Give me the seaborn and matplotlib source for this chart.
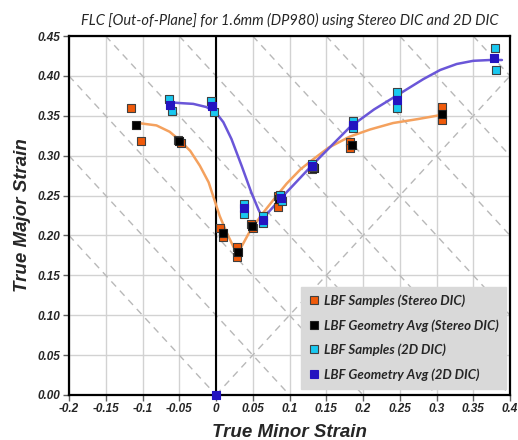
import numpy as np
import pandas as pd
import seaborn as sns
import matplotlib.pyplot as plt
from matplotlib.lines import Line2D

sns.set_style("white")
plt.rcParams['font.family'] = ['Liberation Sans', 'DejaVu Sans']

# LBF samples (Stereo DIC)
stereo_smp_x = [-0.116, -0.1025, -0.052, -0.048, 0.006, 0.010, 0.028, 0.028, 0.048, 0.050,
                0.084, 0.085, 0.130, 0.132, 0.182, 0.182, 0.307, 0.308]
stereo_smp_y = [0.360, 0.318, 0.320, 0.316, 0.209, 0.198, 0.185, 0.173, 0.215, 0.209,
                0.250, 0.236, 0.283, 0.286, 0.317, 0.3095, 0.361, 0.345]
# LBF geometry avg (Stereo DIC)
stereo_avg_x = [-0.109, -0.050, 0.009, 0.030, 0.049, 0.086, 0.133, 0.1846, 0.308]
stereo_avg_y = [0.339, 0.318, 0.2035, 0.179, 0.212, 0.246, 0.285, 0.3136, 0.3526]
# LBF samples (2D DIC)
dic2d_smp_x = [-0.0635, -0.060, -0.0068, -0.0027, 0.038, 0.038, 0.064, 0.064, 0.087, 0.090,
               0.131, 0.132, 0.186, 0.186, 0.2467, 0.2467, 0.379, 0.381]
dic2d_smp_y = [0.3715, 0.356, 0.368, 0.355, 0.240, 0.227, 0.2245, 0.216, 0.251, 0.243,
               0.289, 0.286, 0.344, 0.3346, 0.380, 0.360, 0.435, 0.407]
# LBF geometry avg (2D DIC)
dic2d_avg_x = [0.0, -0.062, -0.005, 0.038, 0.064, 0.088, 0.131, 0.186, 0.246, 0.3787]
dic2d_avg_y = [0.0, 0.364, 0.362, 0.235, 0.220, 0.2475, 0.2875, 0.339, 0.3694, 0.422]

# FLC curves
flc_stereo_x = [-0.106, -0.081, -0.063, -0.049, -0.035, -0.022, -0.010, -0.004, 0.005, 0.0145,
                0.0236, 0.030, 0.0463, 0.0644, 0.0825, 0.0961, 0.115, 0.130, 0.153, 0.182,
                0.210, 0.241, 0.275, 0.3025]
flc_stereo_y = [0.341, 0.338, 0.330, 0.319, 0.306, 0.2875, 0.2666, 0.2497, 0.2245, 0.2036,
                0.186, 0.178, 0.2057, 0.2288, 0.2497, 0.265, 0.283, 0.294, 0.310, 0.324,
                0.333, 0.341, 0.346, 0.3505]
flc_2d_x = [-0.0635, -0.049, -0.031, -0.013, 0.000, 0.010, 0.021, 0.035, 0.048, 0.058, 0.064,
            0.0894, 0.1324, 0.1823, 0.215, 0.246, 0.282, 0.305, 0.3275, 0.350, 0.373, 0.389]
flc_2d_y = [0.367, 0.366, 0.365, 0.361, 0.354, 0.342, 0.321, 0.287, 0.254, 0.232, 0.2215,
            0.2477, 0.2897, 0.336, 0.358, 0.3755, 0.396, 0.4075, 0.415, 0.419, 0.420, 0.420]

# thickness strain reference lines (major + minor = c)
ref_levels = [0.0, 0.1, 0.2, 0.3, 0.4, 0.5, 0.6, 0.7, 0.8]

x_ticks = [-0.2, -0.15, -0.1, -0.05, 0, 0.05, 0.1, 0.15, 0.2, 0.25, 0.3, 0.35, 0.4]
x_labels = ['-0.2', '-0.15', '-0.1', '-0.05', '0', '0.05', '0.1', '0.15', '0.2', '0.25', '0.3', '0.35', '0.4']
y_ticks = [0.0, 0.05, 0.10, 0.15, 0.20, 0.25, 0.30, 0.35, 0.40, 0.45]

series_names = ['LBF Samples (Stereo DIC)', 'LBF Geometry Avg (Stereo DIC)',
                'LBF Samples (2D DIC)', 'LBF Geometry Avg (2D DIC)']
colors = ['#f05a0a', '#000000', '#19c8f0', '#2414c0']
edges = ['#404040', '#202020', '#404040', '#2414c0']

fig, ax = plt.subplots(figsize=(5.18, 4.40), dpi=100)
fig.subplots_adjust(left=0.1332, right=0.9846, bottom=0.1023, top=0.918)

# reference lines
for c in ref_levels:
    ax.axline((0, c), slope=-1, color='#b8b8b8', lw=1.0, ls=(0, (5, 4)), zorder=1)
ax.axline((0, 0), slope=1, color='#b8b8b8', lw=1.0, ls=(0, (5, 4)), zorder=1)
ax.axvline(0, color='black', lw=1.5, zorder=2)

# fitted curves
sns.lineplot(x=flc_stereo_x, y=flc_stereo_y, sort=False, estimator=None, color='#f4a15e',
             lw=1.8, ax=ax, zorder=3, legend=False)
sns.lineplot(x=flc_2d_x, y=flc_2d_y, sort=False, estimator=None, color='#6a56d8',
             lw=1.8, ax=ax, zorder=3, legend=False)

# points
pts = [(stereo_smp_x, stereo_smp_y), (stereo_avg_x, stereo_avg_y),
       (dic2d_smp_x, dic2d_smp_y), (dic2d_avg_x, dic2d_avg_y)]
for i, (px, py) in enumerate(pts):
    df = pd.DataFrame({'minor': px, 'major': py})
    sns.scatterplot(data=df, x='minor', y='major', marker='s', s=40, color=colors[i],
                    edgecolor=edges[i], linewidth=0.8, ax=ax, zorder=4 + i,
                    clip_on=False, legend=False)

ax.set_xlim(-0.2, 0.4)
ax.set_ylim(0, 0.45)
ax.set_xticks(x_ticks)
ax.set_xticklabels(x_labels)
ax.set_yticks(y_ticks)
ax.set_yticklabels(['%.2f' % v for v in y_ticks])
ax.grid(True, color='#d2d2d2', lw=1)
ax.set_axisbelow(True)

for item in ax.get_xticklabels() + ax.get_yticklabels():
    item.set_fontweight('bold')
    item.set_fontstyle('italic')
    item.set_fontsize(8.5)
ax.tick_params(bottom=True, left=True, direction='out', length=4, width=1, color='#606060', pad=2)

for sp in ax.spines.values():
    sp.set_color('black')
    sp.set_linewidth(1.6)

ax.set_xlabel('True Minor Strain', fontsize=13.5, fontweight='bold', fontstyle='italic', labelpad=6)
ax.set_ylabel('True Major Strain', fontsize=13.5, fontweight='bold', fontstyle='italic', labelpad=5)
ax.set_title('FLC [Out-of-Plane] for 1.6mm (DP980) using Stereo DIC and 2D DIC',
             fontsize=10.5, fontstyle='italic', family=['Lato', 'DejaVu Sans'], pad=8)

handles = [Line2D([], [], ls='none', marker='s', markersize=6, markerfacecolor=colors[i],
                  markeredgecolor=edges[i], markeredgewidth=0.8) for i in range(4)]
leg = ax.legend(handles, series_names, loc='lower right', bbox_to_anchor=(0.992, 0.018),
                frameon=True, fancybox=False, framealpha=1, facecolor='#d9d9d9',
                edgecolor='#d9d9d9', handlelength=0.7, handletextpad=0.4, labelspacing=0.9,
                borderpad=0.6, borderaxespad=0,
                prop={'family': ['Lato', 'DejaVu Sans'], 'weight': 'bold', 'style': 'italic', 'size': 9.5})
leg.set_zorder(10)

plt.savefig('out.png', dpi=100)
